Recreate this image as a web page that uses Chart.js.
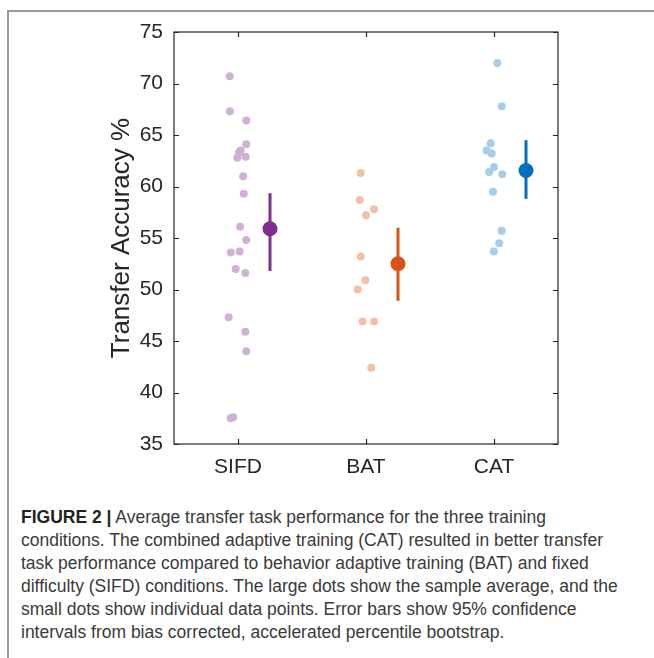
<!DOCTYPE html>
<html>
<head>
<meta charset="utf-8">
<script src="https://cdn.jsdelivr.net/npm/chart.js@4/dist/chart.umd.min.js"></script>
<style>
    html, body { margin: 0; padding: 0; background: #fff; overflow: hidden; }
    body { width: 654px; height: 658px; position: relative; }
    .frame { position: absolute; left: 7px; top: 10px; width: 645px; height: 646px;
             border-left: 2px solid #9a9a9a; border-top: 2px solid #9a9a9a; }
    #chartWrap { position: absolute; left: 0; top: 0; width: 654px; height: 500px; }
    .caption { position: absolute; left: 21px; top: 506px; font-family: "Liberation Sans", Arial, sans-serif;
               font-size: 17.5px; line-height: 23px; color: #3a3a3a; white-space: nowrap; }
    .caption b { font-weight: bold; color: #222; }
</style>
</head>
<body>
<div class="frame"></div>
<div id="chartWrap"><canvas id="chart" width="654" height="500"></canvas></div>
<div class="caption">
    <div><b>FIGURE 2 |</b> Average transfer task performance for the three training</div>
    <div>conditions. The combined adaptive training (CAT) resulted in better transfer</div>
    <div>task performance compared to behavior adaptive training (BAT) and fixed</div>
    <div>difficulty (SIFD) conditions. The large dots show the sample average, and the</div>
    <div>small dots show individual data points. Error bars show 95% confidence</div>
    <div>intervals from bias corrected, accelerated percentile bootstrap.</div>
</div>
<script>
// Categories and tick labels
const categories = ['SIFD', 'BAT', 'CAT'];
const yTicks = [35, 40, 45, 50, 55, 60, 65, 70, 75];

// Individual data points (transfer accuracy %), with small horizontal jitter
const sifdValues = [70.7, 67.3, 66.4, 64.1, 63.5, 63.3, 62.8, 62.9, 61.0, 59.3, 56.1, 54.8, 53.6, 53.7, 52.0, 51.6, 47.3, 45.9, 44.0, 37.5, 37.6];
const sifdJitter = [-0.065, -0.063, 0.065, 0.065, 0.02, 0.008, -0.005, 0.06, 0.04, 0.045, 0.016, 0.065, -0.057, 0.013, -0.018, 0.057, -0.073, 0.057, 0.065, -0.057, -0.037];
const batValues = [61.3, 58.7, 57.8, 57.2, 53.2, 50.9, 50.0, 46.9, 46.9, 42.4];
const batJitter = [-0.041, -0.049, 0.063, 0.0, -0.041, -0.005, -0.065, -0.026, 0.063, 0.041];
const catValues = [72.0, 67.8, 64.2, 63.5, 63.2, 61.9, 61.4, 61.2, 59.5, 55.7, 54.5, 53.7];
const catJitter = [0.026, 0.06, -0.026, -0.057, -0.018, 0.0, -0.037, 0.065, -0.008, 0.06, 0.041, -0.002];

// Sample averages and 95% CI
const means = [55.9, 52.5, 61.55];
const ciLow = [51.8, 48.9, 58.8];
const ciHigh = [59.35, 56.0, 64.5];
const meanOffset = 0.25;

const darkColors = ['#7e2f8e', '#d95319', '#0072bd'];
const lightColors = ['#cfb1d6', '#f2bfa9', '#a6cde9'];

function toPoints(catIndex, values, jitter) {
    return values.map((v, i) => ({ x: catIndex + 1 + jitter[i], y: v }));
}

const datasets = [];
[[sifdValues, sifdJitter], [batValues, batJitter], [catValues, catJitter]].forEach(([vals, jit], i) => {
    datasets.push({
        type: 'scatter',
        data: toPoints(i, vals, jit),
        backgroundColor: lightColors[i],
        borderWidth: 0,
        pointRadius: 4,
        order: 3
    });
});
categories.forEach((c, i) => {
    datasets.push({
        type: 'line',
        data: [{ x: i + 1 + meanOffset, y: ciLow[i] }, { x: i + 1 + meanOffset, y: ciHigh[i] }],
        borderColor: darkColors[i],
        borderWidth: 3,
        pointRadius: 0,
        order: 2
    });
    datasets.push({
        type: 'scatter',
        data: [{ x: i + 1 + meanOffset, y: means[i] }],
        backgroundColor: darkColors[i],
        borderWidth: 0,
        pointRadius: 7.5,
        order: 1
    });
});

// Box with inward ticks, MATLAB style
const boxAxes = {
    id: 'boxAxes',
    afterDraw(chart) {
        const { ctx, chartArea: a, scales } = chart;
        const tl = 5;
        ctx.save();
        ctx.strokeStyle = '#262626';
        ctx.lineWidth = 1.2;
        ctx.strokeRect(a.left, a.top, a.right - a.left, a.bottom - a.top);
        ctx.beginPath();
        yTicks.forEach(v => {
            const y = Math.round(scales.y.getPixelForValue(v)) + 0.5;
            ctx.moveTo(a.left, y); ctx.lineTo(a.left + tl, y);
            ctx.moveTo(a.right, y); ctx.lineTo(a.right - tl, y);
        });
        categories.forEach((c, i) => {
            const x = Math.round(scales.x.getPixelForValue(i + 1)) + 0.5;
            ctx.moveTo(x, a.bottom); ctx.lineTo(x, a.bottom - tl);
            ctx.moveTo(x, a.top); ctx.lineTo(x, a.top + tl);
        });
        ctx.stroke();
        ctx.restore();
    }
};

new Chart(document.getElementById('chart').getContext('2d'), {
    data: { datasets },
    options: {
        responsive: false,
        animation: false,
        layout: { padding: { left: 106, right: 96, top: 32, bottom: 0 } },
        plugins: { legend: { display: false }, tooltip: { enabled: false } },
        scales: {
            x: {
                type: 'linear',
                min: 0.5,
                max: 3.5,
                afterBuildTicks: scale => { scale.ticks = categories.map((c, i) => ({ value: i + 1 })); },
                afterFit: scale => { scale.height = 56; },
                grid: { display: false, drawTicks: false },
                border: { display: false },
                ticks: {
                    padding: 11,
                    color: '#262626',
                    font: { family: 'Liberation Sans', size: 21 },
                    callback: v => categories[v - 1]
                }
            },
            y: {
                min: 35,
                max: 75,
                afterBuildTicks: scale => { scale.ticks = yTicks.map(v => ({ value: v })); },
                afterFit: scale => { scale.width = 68; },
                grid: { display: false, drawTicks: false },
                border: { display: false },
                ticks: {
                    padding: 11,
                    color: '#262626',
                    font: { family: 'Liberation Sans', size: 21 }
                },
                title: {
                    display: true,
                    text: 'Transfer Accuracy %',
                    color: '#262626',
                    padding: 0,
                    font: { family: 'Liberation Sans', size: 26, lineHeight: 1.2 }
                }
            }
        }
    },
    plugins: [boxAxes]
});
</script>
</body>
</html>
